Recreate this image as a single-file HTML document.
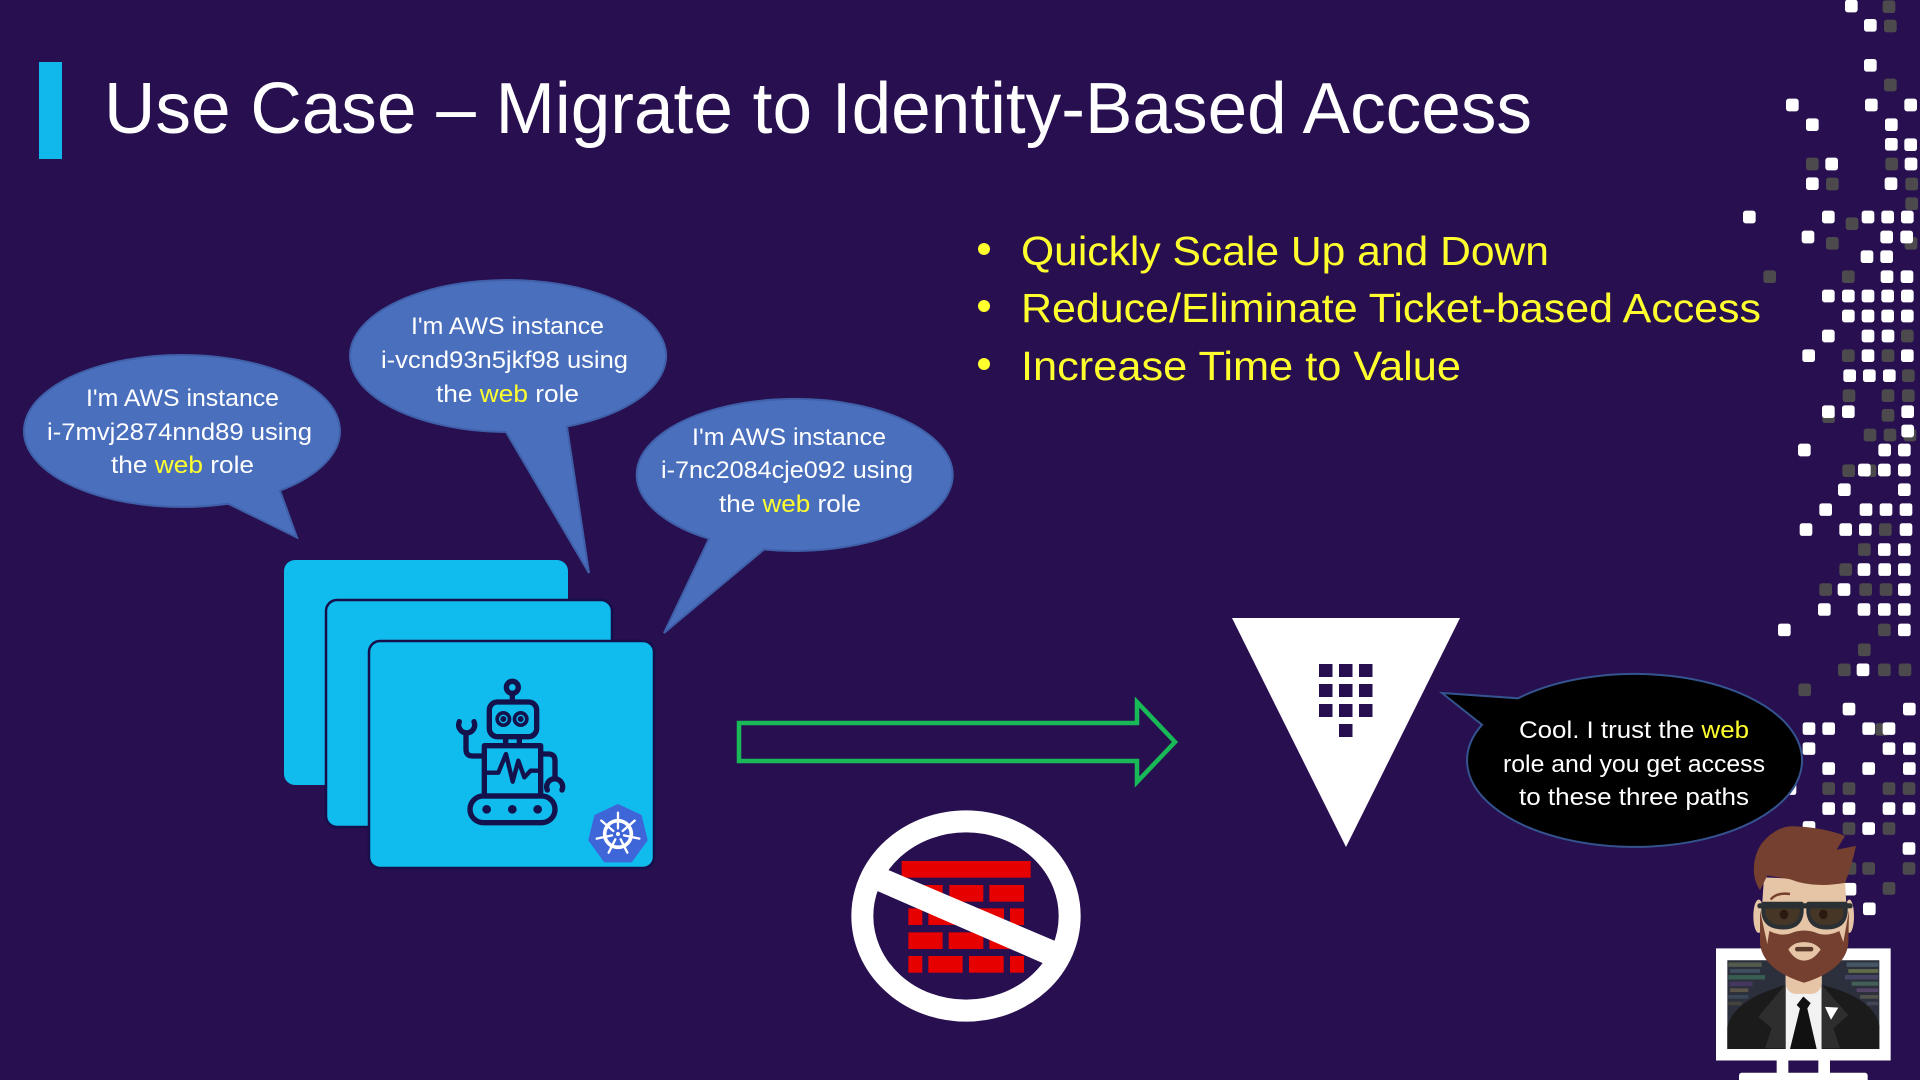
<!DOCTYPE html>
<html lang="en"><head><meta charset="utf-8"><title>Use Case – Migrate to Identity-Based Access</title>
<style>html,body{margin:0;padding:0;background:#270f50;width:1920px;height:1080px;overflow:hidden}svg{display:block}text{font-family:"Liberation Sans",sans-serif}</style></head>
<body>
<svg xmlns="http://www.w3.org/2000/svg" width="1920" height="1080" viewBox="0 0 1920 1080">
<defs>
<rect id="a" x="-19" y="-19" width="38" height="38" rx="8"/>
<rect id="b" x="-19" y="-17" width="38" height="34" rx="7"/>
</defs>
<rect width="1920" height="1080" fill="#270f50"/>
<!-- pixel squares top -->
<g transform="translate(1680 0) scale(.33333)">
<g fill="#4c4a4c">
<use href="#a" x="627" y="20"/><use href="#a" x="631" y="78"/><use href="#a" x="631" y="255"/><use href="#a" x="397" y="492"/><use href="#a" x="635" y="492"/><use href="#a" x="457" y="552"/><use href="#a" x="695" y="552"/><use href="#a" x="695" y="611"/><use href="#a" x="516" y="671"/><use href="#a" x="457" y="730"/><use href="#a" x="693" y="730"/><use href="#a" x="269" y="830"/><use href="#a" x="505" y="830"/><use href="#a" x="505" y="1067"/><use href="#a" x="624" y="1067"/><use href="#a" x="682" y="1008"/><use href="#a" x="685" y="1127"/><use href="#a" x="507" y="1187"/><use href="#a" x="624" y="1187"/><use href="#a" x="685" y="1187"/><use href="#a" x="624" y="1246"/><use href="#a" x="446" y="1250"/><use href="#a" x="570" y="1305"/><use href="#a" x="630" y="1305"/><use href="#a" x="690" y="1305"/><use href="#a" x="506" y="1412"/><use href="#a" x="570" y="1412"/>
</g>
<g fill="#fff">
<use href="#a" x="514" y="18"/><use href="#a" x="571" y="76"/><use href="#a" x="571" y="196"/><use href="#a" x="337" y="315"/><use href="#a" x="574" y="315"/><use href="#a" x="692" y="315"/><use href="#a" x="397" y="374"/><use href="#a" x="634" y="374"/><use href="#a" x="634" y="433"/><use href="#a" x="692" y="434"/><use href="#a" x="455" y="492"/><use href="#a" x="693" y="492"/><use href="#a" x="397" y="551"/><use href="#a" x="633" y="551"/><use href="#a" x="208" y="651"/><use href="#a" x="445" y="651"/><use href="#a" x="564" y="651"/><use href="#a" x="623" y="651"/><use href="#a" x="682" y="651"/><use href="#a" x="384" y="711"/><use href="#a" x="620" y="711"/><use href="#a" x="680" y="711"/><use href="#a" x="561" y="770"/><use href="#a" x="620" y="770"/><use href="#a" x="621" y="830"/><use href="#a" x="681" y="830"/><use href="#a" x="445" y="888"/><use href="#a" x="505" y="888"/><use href="#a" x="564" y="888"/><use href="#a" x="623" y="888"/><use href="#a" x="682" y="888"/><use href="#a" x="505" y="948"/><use href="#a" x="564" y="948"/><use href="#a" x="623" y="948"/><use href="#a" x="682" y="948"/><use href="#a" x="445" y="1008"/><use href="#a" x="564" y="1008"/><use href="#a" x="624" y="1008"/><use href="#a" x="386" y="1067"/><use href="#a" x="564" y="1067"/><use href="#a" x="682" y="1067"/><use href="#a" x="509" y="1127"/><use href="#a" x="568" y="1127"/><use href="#a" x="628" y="1127"/><use href="#a" x="445" y="1235"/><use href="#a" x="505" y="1235"/><use href="#a" x="683" y="1235"/><use href="#a" x="683" y="1293"/><use href="#a" x="373" y="1350"/><use href="#a" x="614" y="1350"/><use href="#a" x="673" y="1350"/><use href="#a" x="553" y="1410"/><use href="#a" x="613" y="1410"/><use href="#a" x="673" y="1410"/><use href="#a" x="493" y="1469"/><use href="#a" x="673" y="1469"/>
</g>
</g>
<!-- pixel squares bottom -->
<g transform="translate(1680 500) scale(.33333 .36996)">
<g fill="#4c4a4c">
<use href="#b" x="616" y="80"/><use href="#b" x="553" y="134"/><use href="#b" x="497" y="188"/><use href="#b" x="437" y="242"/><use href="#b" x="557" y="242"/><use href="#b" x="618" y="242"/><use href="#b" x="613" y="351"/><use href="#b" x="553" y="405"/><use href="#b" x="493" y="459"/><use href="#b" x="613" y="459"/><use href="#b" x="675" y="459"/><use href="#b" x="374" y="513"/><use href="#b" x="605" y="620"/><use href="#b" x="446" y="780"/><use href="#b" x="507" y="780"/><use href="#b" x="627" y="780"/><use href="#b" x="687" y="780"/><use href="#b" x="507" y="888"/><use href="#b" x="627" y="888"/><use href="#b" x="510" y="996"/><use href="#b" x="566" y="996"/><use href="#b" x="687" y="996"/><use href="#b" x="627" y="1050"/>
</g>
<g fill="#fff">
<use href="#b" x="437" y="26"/><use href="#b" x="558" y="26"/><use href="#b" x="618" y="26"/><use href="#b" x="678" y="26"/><use href="#b" x="378" y="80"/><use href="#b" x="497" y="80"/><use href="#b" x="556" y="80"/><use href="#b" x="678" y="80"/><use href="#b" x="613" y="134"/><use href="#b" x="673" y="134"/><use href="#b" x="552" y="188"/><use href="#b" x="614" y="188"/><use href="#b" x="673" y="188"/><use href="#b" x="492" y="242"/><use href="#b" x="673" y="242"/><use href="#b" x="433" y="296"/><use href="#b" x="552" y="296"/><use href="#b" x="613" y="296"/><use href="#b" x="673" y="296"/><use href="#b" x="313" y="351"/><use href="#b" x="673" y="351"/><use href="#b" x="549" y="459"/><use href="#b" x="507" y="565"/><use href="#b" x="688" y="565"/><use href="#b" x="387" y="618"/><use href="#b" x="446" y="618"/><use href="#b" x="566" y="618"/><use href="#b" x="627" y="618"/><use href="#b" x="387" y="672"/><use href="#b" x="627" y="672"/><use href="#b" x="688" y="672"/><use href="#b" x="446" y="726"/><use href="#b" x="566" y="726"/><use href="#b" x="688" y="726"/><use href="#b" x="330" y="780"/><use href="#b" x="446" y="834"/><use href="#b" x="507" y="834"/><use href="#b" x="627" y="834"/><use href="#b" x="687" y="834"/><use href="#b" x="387" y="885"/><use href="#b" x="566" y="888"/><use href="#b" x="687" y="942"/><use href="#b" x="510" y="1052"/><use href="#b" x="568" y="1105"/>
</g>
</g>

<!-- title -->
<rect x="39" y="62" width="23" height="97" fill="#10b8ec"/>
<text x="104" y="133" font-size="72" fill="#fff" textLength="1428" lengthAdjust="spacingAndGlyphs">Use Case – Migrate to Identity-Based Access</text>

<!-- bullets -->
<g fill="#ffff2e">
<circle cx="984" cy="249" r="6"/><circle cx="984" cy="306" r="6"/><circle cx="984" cy="364" r="6"/>
<text x="1021" y="265" font-size="41" textLength="528" lengthAdjust="spacingAndGlyphs">Quickly Scale Up and Down</text>
<text x="1021" y="322" font-size="41" textLength="740" lengthAdjust="spacingAndGlyphs">Reduce/Eliminate Ticket-based Access</text>
<text x="1021" y="380" font-size="41" textLength="440" lengthAdjust="spacingAndGlyphs">Increase Time to Value</text>
</g>

<!-- cards -->
<rect x="284" y="560" width="284" height="225" rx="11" fill="#10bbee"/>
<rect x="326" y="600" width="286" height="227" rx="11" fill="#10bbee" stroke="#170f4a" stroke-width="2.5"/>
<rect x="369" y="641" width="285" height="227" rx="11" fill="#10bbee" stroke="#170f4a" stroke-width="2.5"/>

<!-- robot -->
<g transform="translate(270 550) scale(.33333)" fill="none" stroke="#14124c" stroke-width="16" stroke-linecap="round" stroke-linejoin="round">
<circle cx="727" cy="412" r="18"/><path d="M727 432V455"/>
<rect x="658" y="456" width="142" height="104" rx="24"/>
<circle cx="700" cy="507" r="24" fill="#14124c" stroke="none"/><circle cx="752" cy="507" r="24" fill="#14124c" stroke="none"/>
<circle cx="700" cy="507" r="11" stroke="#10bbee" stroke-width="4"/><circle cx="752" cy="507" r="11" stroke="#10bbee" stroke-width="4"/>
<path d="M707 562V585M748 562V585"/>
<rect x="643" y="587" width="169" height="151"/>
<path d="M643 668H685L708 612 728 695 745 632 763 682 782 662H812" stroke-width="13"/>
<path d="M643 618H608Q588 618 588 598V552"/>
<path d="M568 515A24 24 0 1 0 612 515"/>
<path d="M812 612H835Q855 612 855 632V680"/>
<path d="M832 720A24 24 0 1 1 876 720"/>
<rect x="600" y="738" width="255" height="80" rx="40"/>
<g fill="#14124c" stroke="none"><circle cx="650" cy="778" r="13"/><circle cx="727" cy="778" r="13"/><circle cx="803" cy="778" r="13"/></g>
</g>

<!-- kubernetes -->
<g transform="translate(270 550) scale(.33333)">
<path d="M1044 765 1112 797 1130 870 1084 934H1004L958 870 976 797Z" fill="#3f66d8" stroke="#3f66d8" stroke-width="6" stroke-linejoin="round"/>
<g fill="none" stroke="#fff" stroke-linecap="round">
<circle cx="1044" cy="852" r="40" stroke-width="11"/>
<path stroke-width="7" d="M1044 788V835M1094 812 1058 843M1108 866 1062 856M1072 908 1052 868M1016 908 1036 868M980 866 1026 856M994 812 1030 843"/>
</g>
<circle cx="1044" cy="852" r="6" fill="#fff"/>
</g>

<!-- green arrow -->
<path d="M739 723H1137V702L1175 742 1137 782V761H739Z" fill="none" stroke="#18b956" stroke-width="4.5"/>

<!-- no firewall -->
<g transform="translate(830 790) scale(.33333)">
<g fill="#e60000">
<rect x="215" y="213" width="387" height="50"/>
<rect x="235" y="285" width="103" height="50"/><rect x="358" y="285" width="102" height="50"/><rect x="478" y="285" width="104" height="50"/>
<rect x="235" y="355" width="42" height="50"/><rect x="295" y="355" width="105" height="50"/><rect x="418" y="355" width="104" height="50"/><rect x="540" y="355" width="42" height="50"/>
<rect x="235" y="427" width="103" height="50"/><rect x="356" y="427" width="104" height="50"/><rect x="478" y="427" width="104" height="50"/>
<rect x="235" y="498" width="42" height="50"/><rect x="295" y="498" width="103" height="50"/><rect x="417" y="498" width="104" height="50"/><rect x="540" y="498" width="42" height="50"/>
</g>
<ellipse cx="408" cy="378" rx="311" ry="284" fill="none" stroke="#fff" stroke-width="66"/>
<path d="M175 240 680 455 640 520 135 300Z" fill="#fff"/>
</g>

<!-- blue bubbles -->
<g fill="#4a6fbd" stroke="#3f5fa8" stroke-width="2">
<path d="M228 504.2A158 76 0 1 1 280 491.1L297 538Z" transform="translate(0 -.5)"/>
<path d="M506 431.99A158 76 0 1 1 567 426.5L589 573Z"/>
<path d="M709 538.8A158 76 0 1 1 764 549.5L664 633Z"/>
</g>
<g font-size="24" fill="#fff">
<text x="86" y="406" textLength="193" lengthAdjust="spacingAndGlyphs">I'm AWS instance</text>
<text x="47" y="440" textLength="265" lengthAdjust="spacingAndGlyphs">i-7mvj2874nnd89 using</text>
<text x="111" y="473" textLength="143" lengthAdjust="spacingAndGlyphs">the <tspan fill="#ffff2e">web</tspan> role</text>
<text x="411" y="334" textLength="193" lengthAdjust="spacingAndGlyphs">I'm AWS instance</text>
<text x="381" y="368" textLength="247" lengthAdjust="spacingAndGlyphs">i-vcnd93n5jkf98 using</text>
<text x="436" y="402" textLength="143" lengthAdjust="spacingAndGlyphs">the <tspan fill="#ffff2e">web</tspan> role</text>
<text x="692" y="445" textLength="194" lengthAdjust="spacingAndGlyphs">I'm AWS instance</text>
<text x="661" y="478" textLength="252" lengthAdjust="spacingAndGlyphs">i-7nc2084cje092 using</text>
<text x="719" y="512" textLength="142" lengthAdjust="spacingAndGlyphs">the <tspan fill="#ffff2e">web</tspan> role</text>
</g>

<!-- vault -->
<path d="M1232 618H1460L1346 847Z" fill="#fff"/>
<g fill="#270f50">
<rect x="1319" y="664" width="13.5" height="13"/><rect x="1339" y="664" width="13.5" height="13"/><rect x="1359" y="664" width="13.5" height="13"/>
<rect x="1319" y="684" width="13.5" height="13"/><rect x="1339" y="684" width="13.5" height="13"/><rect x="1359" y="684" width="13.5" height="13"/>
<rect x="1319" y="704" width="13.5" height="13"/><rect x="1339" y="704" width="13.5" height="13"/><rect x="1359" y="704" width="13.5" height="13"/>
<rect x="1339" y="724" width="13.5" height="13"/>
</g>

<!-- black bubble -->
<path d="M1518 698.3A167.5 86.5 0 1 1 1482 724.7L1442 693Z" fill="#000" stroke="#34538f" stroke-width="2"/>
<g font-size="24" fill="#fff">
<text x="1519" y="738" textLength="230" lengthAdjust="spacingAndGlyphs">Cool. I trust the <tspan fill="#ffff2e">web</tspan></text>
<text x="1503" y="772" textLength="262" lengthAdjust="spacingAndGlyphs">role and you get access</text>
<text x="1519" y="805" textLength="230" lengthAdjust="spacingAndGlyphs">to these three paths</text>
</g>

<!-- person at monitor -->
<g transform="translate(1680 500) scale(.33333 .36996)">
<rect x="177" y="1548" width="386" height="30" rx="8" fill="#fff"/>
<rect x="290" y="1512" width="35" height="40" fill="#fff"/><rect x="415" y="1512" width="35" height="40" fill="#fff"/>
<rect x="108" y="1212" width="524" height="303" fill="#fff"/>
<rect x="142" y="1244" width="456" height="240" fill="#2c2f3c"/>
<g opacity=".8">
<rect x="145" y="1250" width="100" height="12" fill="#5c6652"/><rect x="150" y="1268" width="90" height="10" fill="#44586a"/><rect x="145" y="1284" width="110" height="12" fill="#3a6a56"/><rect x="148" y="1302" width="70" height="12" fill="#4a3a6a"/><rect x="150" y="1320" width="55" height="10" fill="#6a5e4c"/><rect x="145" y="1338" width="60" height="10" fill="#3e4e5e"/><rect x="145" y="1356" width="40" height="10" fill="#4a4a3e"/>
<rect x="500" y="1250" width="95" height="12" fill="#4c6270"/><rect x="505" y="1268" width="90" height="10" fill="#6e7c4c"/><rect x="495" y="1284" width="100" height="12" fill="#4c4a70"/><rect x="515" y="1302" width="80" height="11" fill="#4a6a60"/><rect x="530" y="1320" width="65" height="10" fill="#5e4a74"/><rect x="540" y="1338" width="55" height="10" fill="#5c5c52"/><rect x="560" y="1356" width="35" height="10" fill="#4a4a5e"/>
</g>
<path d="M142 1484V1425Q160 1350 317 1311H425Q580 1345 598 1420V1484Z" fill="#1b1b1b"/>
<rect x="317" y="1280" width="108" height="204" fill="#f2f2f2"/>
<path d="M315 1311 235 1397 275 1428 255 1482H315ZM425 1311 505 1392 460 1428 480 1482H425Z" fill="#2e2e2e"/>
<path d="M370 1342 350 1365 360 1374 330 1484H410L382 1374 392 1360Z" fill="#111"/>
<path d="M435 1370 475 1372 453 1405Z" fill="#fff"/>
<rect x="317" y="1260" width="108" height="75" rx="30" fill="#e6c4a6"/>
<ellipse cx="236" cy="1125" rx="16" ry="45" fill="#e6c4a6"/><ellipse cx="508" cy="1125" rx="14" ry="45" fill="#e6c4a6"/>
<path d="M252 1020 495 1030 505 1180Q490 1260 372 1295 260 1260 240 1180Z" fill="#e6c4a6"/>
<path d="M240 1110 262 1200 268 1165Q300 1180 330 1172 372 1155 415 1172 445 1180 478 1165L490 1195 507 1110 505 1200Q495 1270 372 1305 250 1270 240 1200Z" fill="#75402f"/>
<path d="M325 1215Q340 1195 372 1195 405 1195 422 1215 400 1245 372 1245 345 1245 325 1215Z" fill="#e6c4a6"/>
<rect x="345" y="1208" width="55" height="12" rx="6" fill="#5b3a2c"/>
<path d="M222 1010Q218 965 245 928 290 880 340 882 430 885 495 908L470 945 528 935Q515 990 495 1035 400 1050 330 1025L262 1015 240 1055Q225 1035 222 1010Z" fill="#75402f"/>
<path d="M272 1080Q290 1060 330 1065" fill="none" stroke="#75402f" stroke-width="7"/>
<path d="M250 1092H365V1115Q360 1155 310 1155 255 1155 250 1115ZM385 1092H497V1115Q492 1155 440 1155 390 1155 385 1115Z" fill="#463626" stroke="#2a3034" stroke-width="12" stroke-linejoin="round"/>
<rect x="232" y="1090" width="286" height="14" rx="7" fill="#2a3034"/>
<circle cx="312" cy="1120" r="13" fill="#2a1a12"/><circle cx="430" cy="1120" r="13" fill="#2a1a12"/>
</g>
</svg>
</body></html>
